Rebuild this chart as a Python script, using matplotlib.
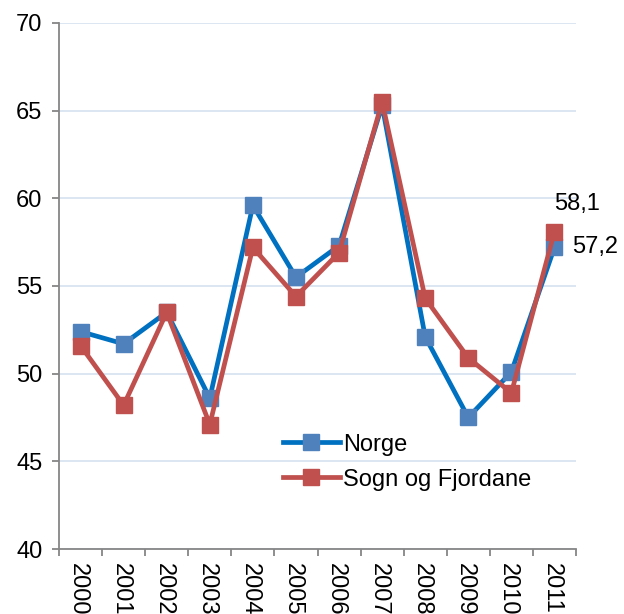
import matplotlib
matplotlib.use("Agg")
import matplotlib.pyplot as plt
import matplotlib.transforms as mtransforms
import numpy as np

plt.rcParams["font.family"] = ["Liberation Sans", "DejaVu Sans"]

years = ["2000", "2001", "2002", "2003", "2004", "2005",
         "2006", "2007", "2008", "2009", "2010", "2011"]
norge = [52.4, 51.7, 53.5, 48.6, 59.6, 55.5, 57.3, 65.3, 52.1, 47.5, 50.1, 57.2]
sogn = [51.6, 48.2, 53.5, 47.1, 57.2, 54.4, 56.9, 65.5, 54.3, 50.9, 48.9, 58.1]

BLUE_LINE, BLUE_MARK = "#0070C0", "#4F81BD"
RED_LINE, RED_MARK = "#C0504D", "#C0504D"
GRID = "#D9E4F1"
AXIS = "#868686"

fig = plt.figure(figsize=(6.24, 6.14), dpi=100)
ax = fig.add_axes([59 / 624, 1 - 549 / 614, 517 / 624, 526 / 614])

x = np.arange(len(years))
ax.plot(x, norge, color=BLUE_LINE, lw=3.4, marker="s", ms=11.5,
        mfc=BLUE_MARK, mec=BLUE_MARK, label="Norge", zorder=3)
ax.plot(x, sogn, color=RED_LINE, lw=3.4, marker="s", ms=11.5,
        mfc=RED_MARK, mec=RED_MARK, label="Sogn og Fjordane", zorder=4)

# etiquettes de données (dernière année)
ax.annotate(f"{sogn[-1]:.1f}".replace(".", ","), (x[-1], sogn[-1]),
            xytext=(0, 12), textcoords="offset points", fontsize=17,
            ha="left", va="bottom")
ax.annotate(f"{norge[-1]:.1f}".replace(".", ","), (x[-1], norge[-1]),
            xytext=(12.5, 0), textcoords="offset points", fontsize=17,
            ha="left", va="center")

ax.set_xlim(-0.5, len(years) - 0.5)
ax.set_ylim(40, 70)
ax.set_yticks(np.arange(40, 71, 5))
ax.yaxis.grid(True, color=GRID, lw=1.3)
ax.set_axisbelow(True)

ax.set_xticks(x)
ax.set_xticklabels(years, rotation=270, va="top", ha="center")
ax.set_xticks(np.arange(-0.5, len(years)), minor=True)
ax.tick_params(axis="x", which="major", length=0, pad=10, labelsize=17)
ax.tick_params(axis="x", which="minor", length=5, width=1.3, color=AXIS, direction="out")
ax.tick_params(axis="y", length=5, width=1.3, color=AXIS, labelsize=17, pad=7)
shift = mtransforms.ScaledTranslation(-3 / 100, 0, fig.dpi_scale_trans)
for lab in ax.get_xticklabels():
    lab.set_transform(lab.get_transform() + shift)

for s in ("top", "right"):
    ax.spines[s].set_visible(False)
for s in ("left", "bottom"):
    ax.spines[s].set_color(AXIS)
    ax.spines[s].set_linewidth(1.3)

ax.legend(loc="center left", bbox_to_anchor=(0.433, 0.165), frameon=False,
          fontsize=17, borderpad=0, borderaxespad=0, handlelength=2.4,
          handletextpad=0.15, labelspacing=0.55)

fig.savefig("out.png", dpi=100)
